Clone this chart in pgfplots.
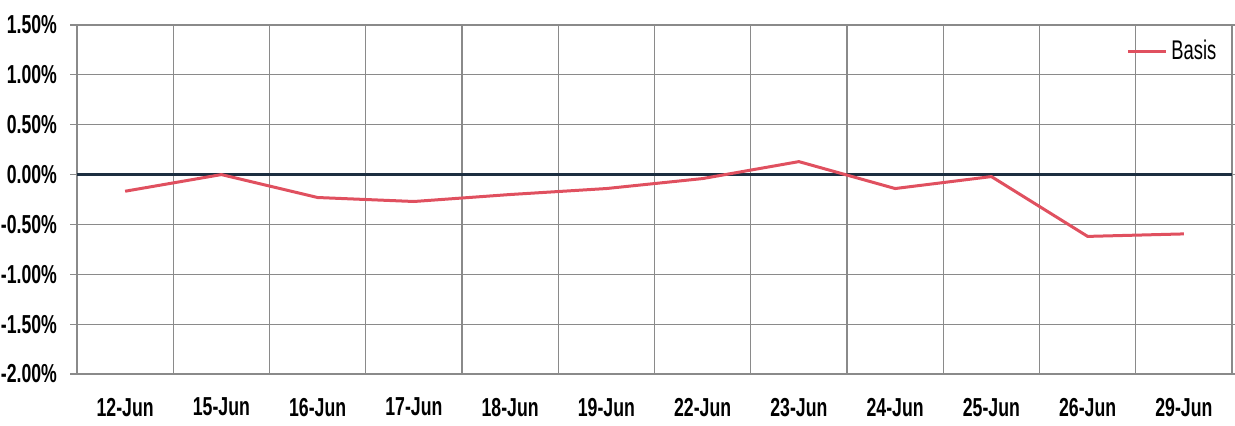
\documentclass[border=0pt]{standalone}
\usepackage{fontspec}
\setmainfont{Liberation Sans}[FakeStretch=0.68]
\usepackage{pgfplots}
\pgfplotsset{compat=1.18}
\definecolor{basisred}{HTML}{E0505F}
\definecolor{zeroline}{HTML}{1C2E40}
\definecolor{gridgray}{HTML}{8A8A8A}
\begin{document}
\begin{tikzpicture}
\path[use as bounding box] (-38.5pt,-25.5pt) rectangle (579pt,187pt);
\begin{axis}[
  at={(0,0)}, anchor=south west,
  scale only axis, width=577.5pt, height=174.5pt,
  xmin=-0.5, xmax=11.5, ymin=-2, ymax=1.5,
  xtick={0,...,11},
  xticklabels={12-Jun,15-Jun,16-Jun,17-Jun,18-Jun,19-Jun,22-Jun,23-Jun,24-Jun,25-Jun,26-Jun,29-Jun},
  minor xtick={0.5,1.5,...,10.5},
  ytick={-2,-1.5,...,1.5},
  yticklabels={-2.00\%,-1.50\%,-1.00\%,-0.50\%,0.00\%,0.50\%,1.00\%,1.50\%},
  ymajorgrids, xminorgrids,
  grid style={gridgray, line width=0.6pt},
  minor grid style={gridgray, line width=0.6pt},
  axis line style={gridgray, line width=0.6pt},
  x tick style={draw=none},
  minor x tick style={draw=none},
  y tick style={gridgray, line width=0.6pt},
  tick align=outside, major tick length=3.5pt,
  tick label style={font=\fontsize{13}{15}\selectfont\bfseries, black},
  xticklabel style={yshift=-5pt},
  yticklabel style={xshift=-3pt},
  legend style={at={(rel axis cs:0.992,0.975)}, anchor=north east, draw=none, fill=none,
    font=\fontsize{13.5}{15}\selectfont, inner sep=1pt},
  legend cell align=left,
  legend image code/.code={\draw[#1] (0pt,0pt) -- (19pt,0pt);},
]
\addplot[zeroline, line width=1.6pt, forget plot] coordinates {(-0.5,0) (11.5,0)};
\addplot[basisred, line width=1.5pt] coordinates {
  (0,-0.167) (1,0.0) (2,-0.23) (3,-0.27) (4,-0.20) (5,-0.14)
  (6,-0.04) (7,0.13) (8,-0.14) (9,-0.02) (10,-0.62) (11,-0.595)
};
\addlegendentry{Basis}
\end{axis}
\end{tikzpicture}
\end{document}
